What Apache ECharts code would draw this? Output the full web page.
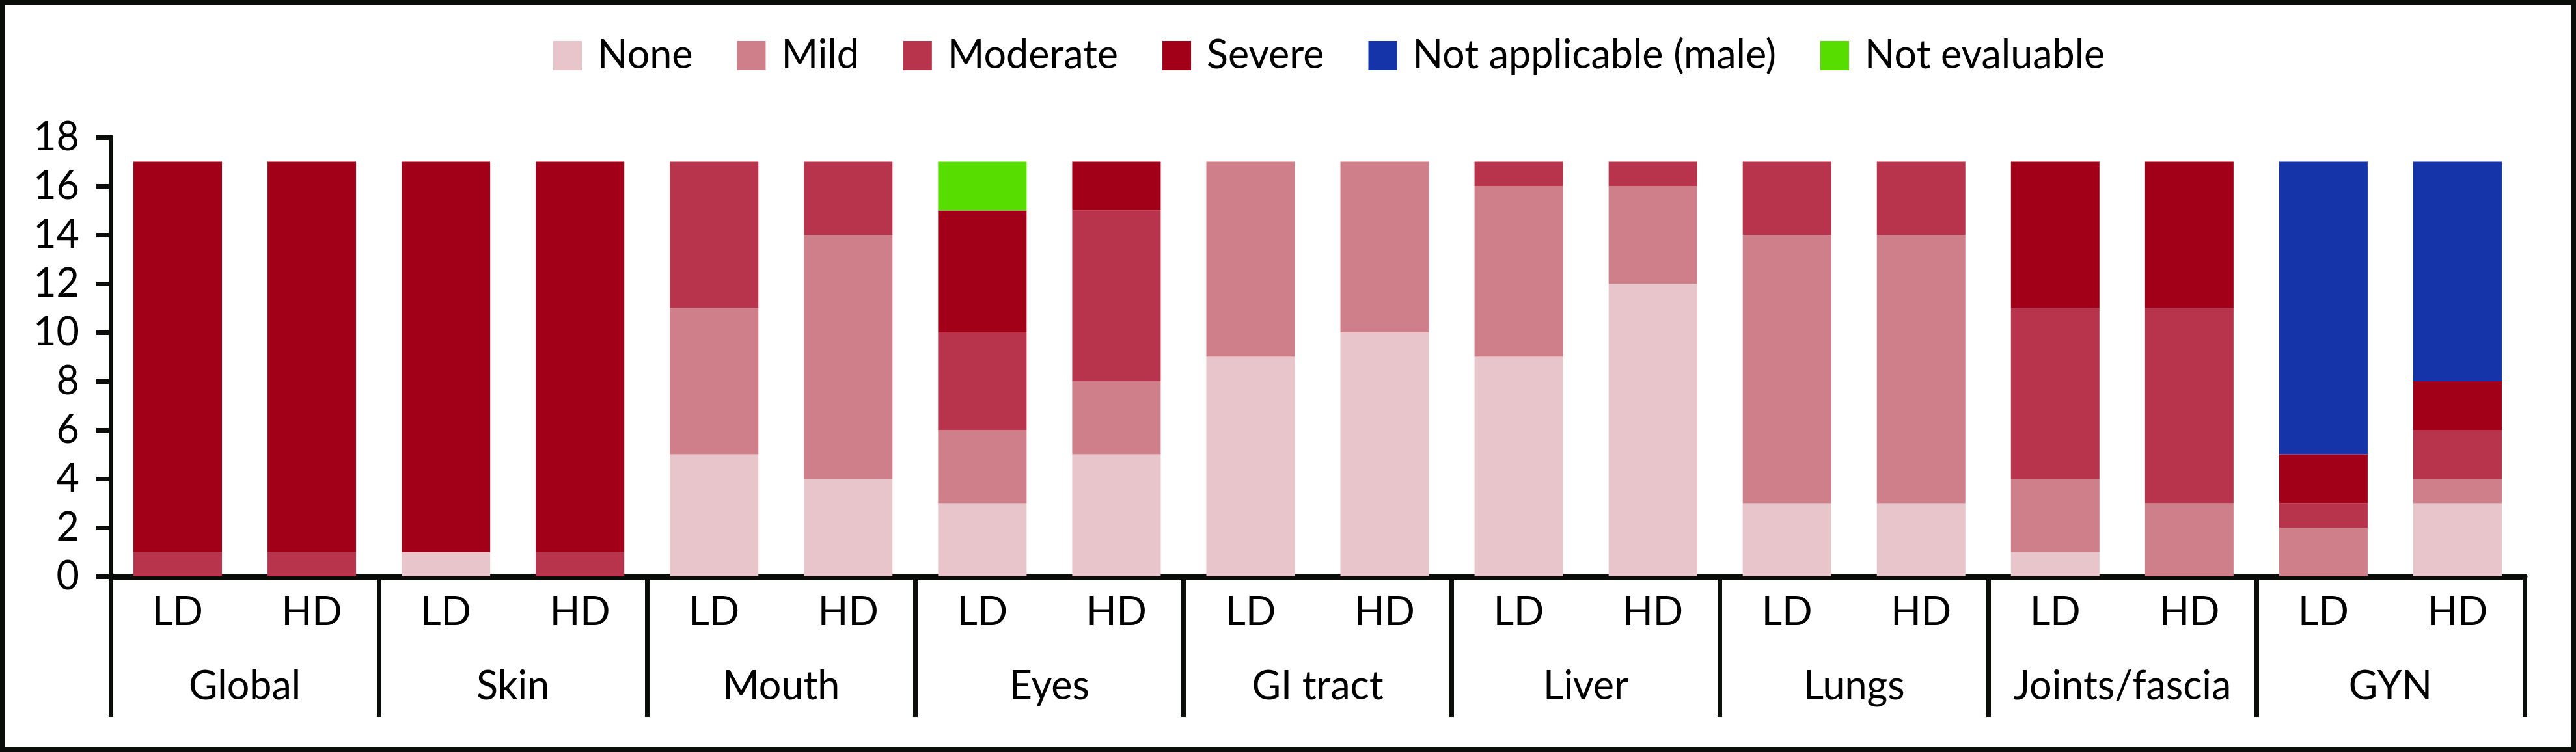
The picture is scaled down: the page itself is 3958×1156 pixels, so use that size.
<!DOCTYPE html>
<html>
<head>
<meta charset="utf-8">
<script src="https://cdn.jsdelivr.net/npm/echarts@6/dist/echarts.min.js"></script>
<style>
  html, body { margin: 0; padding: 0; background: #fff; }
  #wrap { position: relative; width: 3958px; height: 1156px; }
  #chart { position: absolute; left: 0; top: 0; width: 3958px; height: 1156px; }
  #frame { position: absolute; left: 0; top: 0; width: 3958px; height: 1156px; box-sizing: border-box; border: 8px solid #0b0d0b; pointer-events: none; }
</style>
</head>
<body>
<div id="wrap"><div id="chart"></div><div id="frame"></div></div>
<script>
const groups = ['Global', 'Skin', 'Mouth', 'Eyes', 'GI tract', 'Liver', 'Lungs', 'Joints/fascia', 'GYN'];
const doses = ['LD', 'HD'];
const yTicks = { min: 0, max: 18, interval: 2 };

// order: Global LD, Global HD, Skin LD, Skin HD, ... GYN LD, GYN HD
const noneVals          = [0, 0, 1, 0, 5, 4, 3, 5, 9, 10, 9, 12, 3, 3, 1, 0, 0, 3];
const mildVals          = [0, 0, 0, 0, 6, 10, 3, 3, 8, 7, 7, 4, 11, 11, 3, 3, 2, 1];
const moderateVals      = [1, 1, 0, 1, 6, 3, 4, 7, 0, 0, 1, 1, 3, 3, 7, 8, 1, 2];
const severeVals        = [16, 16, 16, 16, 0, 0, 5, 2, 0, 0, 0, 0, 0, 0, 6, 6, 2, 2];
const notApplicableVals = [0, 0, 0, 0, 0, 0, 0, 0, 0, 0, 0, 0, 0, 0, 0, 0, 12, 9];
const notEvaluableVals  = [0, 0, 0, 0, 0, 0, 2, 0, 0, 0, 0, 0, 0, 0, 0, 0, 0, 0];

const seriesNames = ['None', 'Mild', 'Moderate', 'Severe', 'Not applicable (male)', 'Not evaluable'];
const seriesValues = [noneVals, mildVals, moderateVals, severeVals, notApplicableVals, notEvaluableVals];
const seriesColors = ['#E8C5CA', '#CF7F8A', '#B8344D', '#A20019', '#1534AA', '#57DD00'];

const barCategories = [];
groups.forEach(g => doses.forEach(d => barCategories.push(d)));

const FONT = 'Lato';
const FS = 61;
const BLACK = '#0b0d0b';

const chart = echarts.init(document.getElementById('chart'), null, { renderer: 'canvas' });
chart.setOption({
  animation: false,
  backgroundColor: '#ffffff',
  textStyle: { fontFamily: FONT },
  legend: {
    left: 845,
    top: 50,
    itemWidth: 44,
    itemHeight: 45,
    itemGap: 68,
    icon: 'rect',
    textStyle: { fontFamily: FONT, fontSize: FS, color: '#000', padding: [0, 0, 0, 19] },
    data: seriesNames
  },
  grid: { left: 170, right: 79, top: 211, bottom: 270, containLabel: false },
  xAxis: [
    {
      type: 'category',
      data: barCategories,
      position: 'bottom',
      axisLine: { show: true, lineStyle: { color: BLACK, width: 9 } },
      axisTick: { show: false },
      axisLabel: { interval: 0, margin: 25, fontFamily: FONT, fontSize: FS, color: '#000' }
    },
    {
      type: 'category',
      data: groups,
      position: 'bottom',
      axisLine: { show: false },
      axisTick: { show: true, interval: 0, length: 216, lineStyle: { color: BLACK, width: 7 } },
      axisLabel: { interval: 0, margin: 139, fontFamily: FONT, fontSize: FS, color: '#000' }
    }
  ],
  yAxis: {
    type: 'value',
    min: yTicks.min,
    max: yTicks.max,
    interval: yTicks.interval,
    splitLine: { show: false },
    axisLine: { show: true, lineStyle: { color: BLACK, width: 7 } },
    axisTick: { show: true, length: 22, lineStyle: { color: BLACK, width: 7 } },
    axisLabel: { margin: 48, fontFamily: FONT, fontSize: FS, color: '#000' }
  },
  series: seriesNames.map((name, i) => ({
    name: name,
    type: 'bar',
    stack: 'total',
    xAxisIndex: 0,
    barWidth: '66%',
    itemStyle: { color: seriesColors[i] },
    data: seriesValues[i]
  }))
});
</script>
</body>
</html>
